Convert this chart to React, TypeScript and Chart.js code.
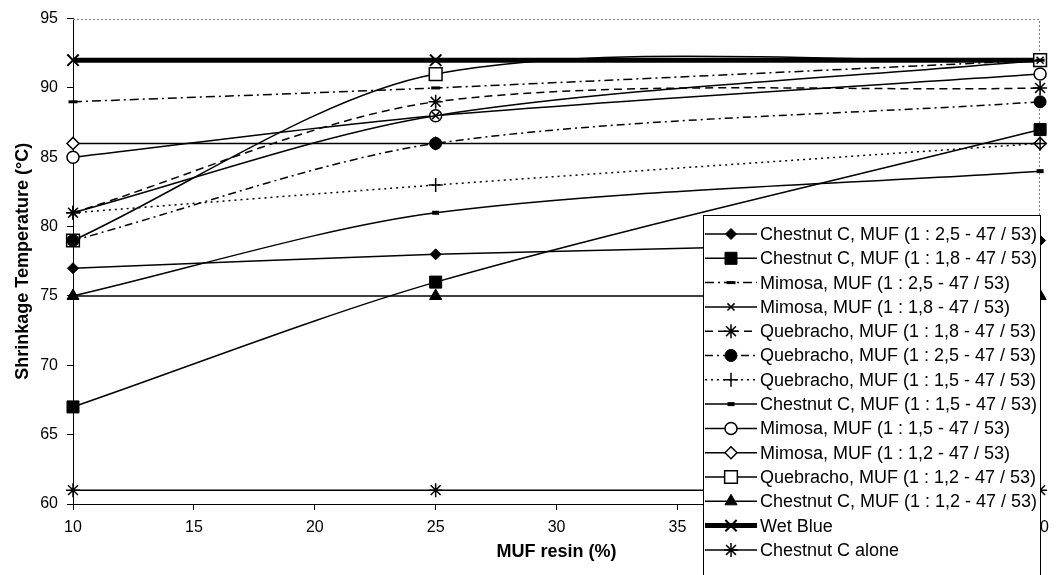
import React, { useEffect, useRef } from 'react';
import { Chart, registerables } from 'chart.js';

Chart.register(...registerables);

// ---- data ----
const resinPercent = [10, 25, 50];
const xTicksMin = 10;
const xTicksMax = 50;
const yTicksMin = 60;
const yTicksMax = 95;

const seriesLabels = [
  'Chestnut C, MUF (1 : 2,5 - 47 / 53)',
  'Chestnut C, MUF (1 : 1,8 - 47 / 53)',
  'Mimosa, MUF (1 : 2,5 - 47 / 53)',
  'Mimosa, MUF (1 : 1,8 - 47 / 53)',
  'Quebracho, MUF (1 : 1,8 - 47 / 53)',
  'Quebracho, MUF (1 : 2,5 - 47 / 53)',
  'Quebracho, MUF (1 : 1,5 - 47 / 53)',
  'Chestnut C, MUF (1 : 1,5 - 47 / 53)',
  'Mimosa, MUF (1 : 1,5 - 47 / 53)',
  'Mimosa, MUF (1 : 1,2 - 47 / 53)',
  'Quebracho, MUF (1 : 1,2 - 47 / 53)',
  'Chestnut C, MUF (1 : 1,2 - 47 / 53)',
  'Wet Blue',
  'Chestnut C alone',
];

const chestnut25 = [77, 78, 79];
const chestnut18 = [67, 76, 87];
const mimosa25 = [89, 90, 92];
const mimosa18 = [81, 88, 92];
const quebracho18 = [81, 89, 90];
const quebracho25 = [79, 86, 89];
const quebracho15 = [81, 83, 86];
const chestnut15 = [75, 81, 84];
const mimosa15 = [85, 88, 91];
const mimosa12 = [86, 86, 86];
const quebracho12 = [79, 91, 92];
const chestnut12 = [75, 75, 75];
const wetBlue = [92, 92, 92];
const chestnutAlone = [61, 61, 61];

const seriesValues = [
  chestnut25, chestnut18, mimosa25, mimosa18, quebracho18, quebracho25, quebracho15,
  chestnut15, mimosa15, mimosa12, quebracho12, chestnut12, wetBlue, chestnutAlone,
];

// ---- styles ----
type Sty = { dash: number[]; lw: number; ps: string; r: number; fill: string; pbw: number };
const styles: Sty[] = [
  { dash: [], lw: 1.5, ps: 'rectRot', r: 5.5, fill: '#000', pbw: 1 },
  { dash: [], lw: 1.5, ps: 'rect', r: 8.5, fill: '#000', pbw: 1 },
  { dash: [9, 4, 2, 4], lw: 1.5, ps: 'line', r: 4.5, fill: '#000', pbw: 3 },
  { dash: [], lw: 1.5, ps: 'crossRot', r: 5, fill: '#000', pbw: 1.5 },
  { dash: [8, 5], lw: 1.5, ps: 'star', r: 7, fill: '#000', pbw: 1.5 },
  { dash: [8, 4, 2, 4], lw: 1.5, ps: 'circle', r: 6, fill: '#000', pbw: 1 },
  { dash: [2, 4], lw: 1.5, ps: 'cross', r: 7, fill: '#000', pbw: 1.5 },
  { dash: [], lw: 1.5, ps: 'line', r: 3.5, fill: '#000', pbw: 4 },
  { dash: [], lw: 1.5, ps: 'circle', r: 6, fill: '#fff', pbw: 1.5 },
  { dash: [], lw: 1.5, ps: 'rectRot', r: 6, fill: '#fff', pbw: 1.5 },
  { dash: [], lw: 1.5, ps: 'rect', r: 9, fill: '#fff', pbw: 1.5 },
  { dash: [], lw: 1.5, ps: 'triangle', r: 7, fill: '#000', pbw: 1 },
  { dash: [], lw: 5, ps: 'crossRot', r: 8, fill: '#000', pbw: 2 },
  { dash: [], lw: 1.5, ps: 'star', r: 7, fill: '#000', pbw: 1.5 },
];

const FONT = '"Liberation Sans", Arial, sans-serif';

function drawMarker(ctx: CanvasRenderingContext2D, s: Sty, x: number, y: number) {
  const r = s.r;
  ctx.save();
  ctx.setLineDash([]);
  ctx.lineWidth = s.pbw;
  ctx.strokeStyle = '#000';
  ctx.fillStyle = s.fill;
  ctx.beginPath();
  const q = Math.PI / 4;
  switch (s.ps) {
    case 'circle':
      ctx.arc(x, y, r, 0, Math.PI * 2);
      ctx.closePath(); ctx.fill(); ctx.stroke();
      break;
    case 'rect': {
      const h = r * Math.SQRT1_2;
      ctx.rect(x - h, y - h, 2 * h, 2 * h);
      ctx.fill(); ctx.stroke();
      break;
    }
    case 'rectRot':
      ctx.moveTo(x, y - r); ctx.lineTo(x + r, y); ctx.lineTo(x, y + r); ctx.lineTo(x - r, y);
      ctx.closePath(); ctx.fill(); ctx.stroke();
      break;
    case 'triangle':
      ctx.moveTo(x, y - r);
      ctx.lineTo(x + r * Math.sin(2 * Math.PI / 3), y - r * Math.cos(2 * Math.PI / 3));
      ctx.lineTo(x - r * Math.sin(2 * Math.PI / 3), y - r * Math.cos(2 * Math.PI / 3));
      ctx.closePath(); ctx.fill(); ctx.stroke();
      break;
    case 'line':
      ctx.moveTo(x - r, y); ctx.lineTo(x + r, y); ctx.stroke();
      break;
    case 'cross':
      ctx.moveTo(x, y - r); ctx.lineTo(x, y + r); ctx.moveTo(x - r, y); ctx.lineTo(x + r, y); ctx.stroke();
      break;
    case 'crossRot': {
      const d = r * Math.cos(q);
      ctx.moveTo(x - d, y - d); ctx.lineTo(x + d, y + d); ctx.moveTo(x + d, y - d); ctx.lineTo(x - d, y + d); ctx.stroke();
      break;
    }
    case 'star': {
      const d = r * Math.cos(q);
      ctx.moveTo(x, y - r); ctx.lineTo(x, y + r); ctx.moveTo(x - r, y); ctx.lineTo(x + r, y);
      ctx.moveTo(x - d, y - d); ctx.lineTo(x + d, y + d); ctx.moveTo(x + d, y - d); ctx.lineTo(x - d, y + d); ctx.stroke();
      break;
    }
  }
  ctx.restore();
}

const LEG = { left: 703, top: 215, right: 1040, bottom: 600, row0: 234, rowH: 24.3, l0: 705, l1: 757, mx: 731, tx: 760 };

const framePlugin = {
  id: 'frame',
  beforeDatasetsDraw(chart: any) {
    const { ctx, chartArea: a } = chart;
    ctx.save();
    ctx.strokeStyle = '#888';
    ctx.lineWidth = 1;
    ctx.setLineDash([2, 2]);
    ctx.beginPath();
    ctx.moveTo(a.left, Math.round(a.top) + 0.5);
    ctx.lineTo(Math.round(a.right) - 0.5, Math.round(a.top) + 0.5);
    ctx.lineTo(Math.round(a.right) - 0.5, a.bottom);
    ctx.stroke();
    ctx.restore();
  },
  afterDraw(chart: any) {
    const ctx: CanvasRenderingContext2D = chart.ctx;
    ctx.save();
    ctx.fillStyle = '#fff';
    ctx.fillRect(LEG.left, LEG.top, LEG.right - LEG.left, LEG.bottom - LEG.top);
    ctx.strokeStyle = '#000';
    ctx.lineWidth = 1;
    ctx.strokeRect(LEG.left + 0.5, LEG.top + 0.5, LEG.right - LEG.left, LEG.bottom - LEG.top);
    ctx.font = '18px ' + FONT;
    ctx.textBaseline = 'middle';
    ctx.textAlign = 'left';
    seriesLabels.forEach((label, i) => {
      const s = styles[i];
      const y = LEG.row0 + i * LEG.rowH;
      ctx.save();
      ctx.strokeStyle = '#000';
      ctx.lineWidth = s.lw;
      ctx.setLineDash(s.dash);
      ctx.beginPath();
      ctx.moveTo(LEG.l0, y);
      ctx.lineTo(LEG.l1, y);
      ctx.stroke();
      ctx.restore();
      drawMarker(ctx, s, LEG.mx, y);
      ctx.fillStyle = '#000';
      ctx.fillText(label, LEG.tx, y + 1);
    });
    ctx.restore();
  },
};

export default function App() {
  const ref = useRef<HTMLCanvasElement>(null);
  useEffect(() => {
    if (!ref.current) return;
    const datasets = seriesLabels.map((label, i) => {
      const s = styles[i];
      return {
        label,
        data: resinPercent.map((x, j) => ({ x, y: seriesValues[i][j] })),
        borderColor: '#000',
        borderWidth: s.lw,
        borderDash: s.dash,
        pointStyle: s.ps,
        pointRadius: s.r,
        pointBackgroundColor: s.fill,
        pointBorderColor: '#000',
        pointBorderWidth: s.pbw,
        tension: 0.3,
        fill: false,
        clip: false as any,
      };
    });
    const chart = new Chart(ref.current, {
      type: 'line',
      data: { datasets },
      options: {
        responsive: false,
        animation: false,
        events: [],
        layout: { padding: { top: 18, right: 7, left: 0, bottom: 0 } },
        plugins: { legend: { display: false }, tooltip: { enabled: false } },
        scales: {
          x: {
            type: 'linear',
            min: xTicksMin,
            max: xTicksMax,
            ticks: { stepSize: 5, color: '#000', font: { family: FONT, size: 16 }, padding: 8, maxRotation: 0 },
            grid: { drawOnChartArea: false, tickLength: 6, color: '#000' },
            border: { color: '#000', width: 1 },
            title: { display: true, text: 'MUF resin (%)', color: '#000', font: { family: FONT, size: 18, weight: 'bold' }, padding: { top: 0, bottom: 12 } },
            afterFit: (scale: any) => { scale.height = 71; },
          },
          y: {
            type: 'linear',
            min: yTicksMin,
            max: yTicksMax,
            ticks: { stepSize: 5, color: '#000', font: { family: FONT, size: 16 }, padding: 9 },
            grid: { drawOnChartArea: false, tickLength: 6, color: '#000' },
            border: { color: '#000', width: 1 },
            title: { display: true, text: 'Shrinkage Temperature (°C)', color: '#000', font: { family: FONT, size: 18, weight: 'bold' }, padding: { top: 12, bottom: 0 } },
            afterFit: (scale: any) => { scale.width = 73; },
          },
        },
      },
      plugins: [framePlugin],
    } as any);
    return () => chart.destroy();
  }, []);
  return (
    <div style={{ position: 'fixed', left: 0, top: 0, width: 1057, height: 575, background: '#fff' }}>
      <canvas ref={ref} width={1057} height={575} />
    </div>
  );
}
